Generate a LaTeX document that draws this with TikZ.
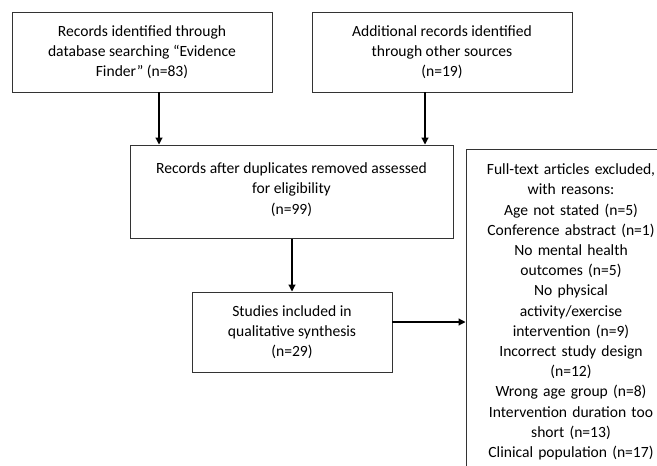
\documentclass[tikz,border=0pt]{standalone}
\usepackage{fontspec}
\setmainfont{Carlito}
\usetikzlibrary{arrows.meta}
\begin{document}
\begin{tikzpicture}[x=1pt,y=-1pt,
  box/.style={draw=black!80,line width=1pt,align=center,inner sep=0pt,
    font=\fontsize{15.6}{20.2}\selectfont,text=black},
  conn/.style={draw=black,line width=1.2pt,-{Triangle[length=7pt,width=7pt]}}]
\useasboundingbox (0,0) rectangle (657,466);
\clip (0,0) rectangle (657,466);
\node[box,minimum width=260pt,minimum height=80pt] (b1) at (142,52)
  {Records identified through\\database searching “Evidence\\Finder” (n=83)};
\node[box,minimum width=260pt,minimum height=80pt] (b2) at (442,52)
  {Additional records identified\\through other sources\\(n=19)};
\node[box,minimum width=323pt,minimum height=93pt,text depth=6pt] (b3) at (291.5,191.5)
  {Records after duplicates removed assessed\\for eligibility\\(n=99)};
\node[box,minimum width=200pt,minimum height=80pt] (b4) at (292,332)
  {Studies included in\\qualitative synthesis\\(n=29)};
\node[box,minimum width=210pt,minimum height=326pt,text width=206pt] (b5) at (571,312)
  {Full-text articles excluded,\\with reasons:\\Age not stated (n=5)\\Conference abstract (n=1)\\No mental health\\outcomes (n=5)\\No physical\\activity/exercise\\intervention (n=9)\\Incorrect study design\\(n=12)\\Wrong age group (n=8)\\Intervention duration too\\short (n=13)\\Clinical population (n=17)};
\coordinate (a1) at (159,92);
\coordinate (a2) at (425,92);
\coordinate (a5) at (392,322);
\draw[conn] (a1) -- (a1 |- b3.north);
\draw[conn] (a2) -- (a2 |- b3.north);
\draw[conn] (b3.south -| b4.north) -- (b4.north);
\draw[conn] (a5) -- (a5 -| b5.west);
\end{tikzpicture}
\end{document}
